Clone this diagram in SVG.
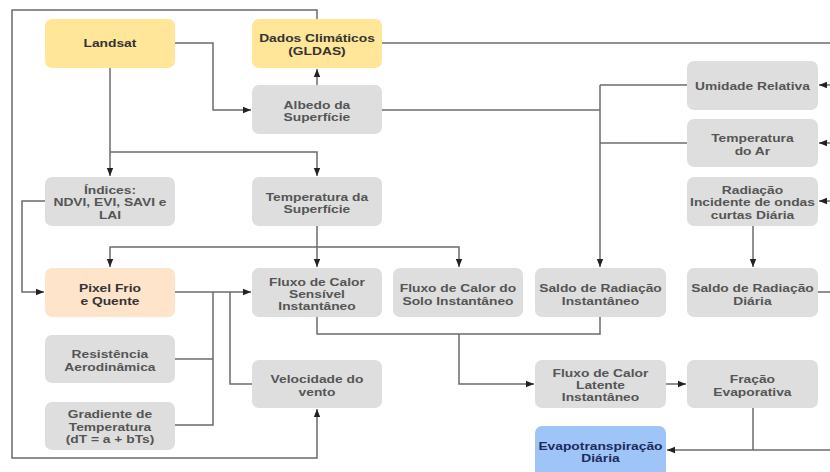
<svg xmlns="http://www.w3.org/2000/svg" width="830" height="472" viewBox="0 0 830 472">
<style>
  .box { stroke: none; }
  .gray { fill: #dedede; }
  .yellow { fill: #ffe699; }
  .peach { fill: #fde4cb; }
  .blue { fill: #9fc5f8; }
  text { font-family: "Liberation Sans", Arial, sans-serif; font-weight: bold; font-size: 11.5px; fill: #555555; text-anchor: middle; transform-box: fill-box; transform-origin: center; transform: scaleX(1.2); }
  .dark { fill: #333333; }
  .navy { fill: #1c2a5c; }
  .conn path { fill: none; stroke: #6b6b6b; stroke-width: 1.5; }
</style>
<defs>
  <marker id="arr" viewBox="0 0 10 10" refX="10" refY="5" markerWidth="8" markerHeight="8" markerUnits="userSpaceOnUse" orient="auto">
    <path d="M0,1 L10,5 L0,9 Z" fill="#222222"/>
  </marker>
</defs>
<rect width="830" height="472" fill="#ffffff"/>

<g class="conn">
  <path d="M317,19 V10 H12 V458 H317 V409" marker-end="url(#arr)"/>
  <path d="M175,43 H213 V110 H251" marker-end="url(#arr)"/>
  <path d="M317,85 V69" marker-end="url(#arr)"/>
  <path d="M382,43 H830"/>
  <path d="M382,110 H600"/>
  <path d="M687,85 H600"/>
  <path d="M687,143 H600"/>
  <path d="M600,85 V267" marker-end="url(#arr)"/>
  <path d="M830,85 H819" marker-end="url(#arr)"/>
  <path d="M830,143 H819" marker-end="url(#arr)"/>
  <path d="M830,201 H819" marker-end="url(#arr)"/>
  <path d="M753,226 V267" marker-end="url(#arr)"/>
  <path d="M818,292 H830"/>
  <path d="M110,68 V176" marker-end="url(#arr)"/>
  <path d="M110,152 H317 V176" marker-end="url(#arr)"/>
  <path d="M45,201 H22 V292 H44" marker-end="url(#arr)"/>
  <path d="M317,226 V267" marker-end="url(#arr)"/>
  <path d="M317,247 H459 V267" marker-end="url(#arr)"/>
  <path d="M317,247 H110 V267" marker-end="url(#arr)"/>
  <path d="M175,292 H251" marker-end="url(#arr)"/>
  <path d="M213,292 V425 H175"/>
  <path d="M175,359 H213"/>
  <path d="M230,292 V384 H252"/>
  <path d="M317,317 V334 H600 V317"/>
  <path d="M459,334 V384 H534" marker-end="url(#arr)"/>
  <path d="M666,384 H686" marker-end="url(#arr)"/>
  <path d="M753,408 V450"/>
  <path d="M830,450 H667" marker-end="url(#arr)"/>
</g>

<g id="landsat"><rect class="box yellow" x="45" y="19" width="130" height="49" rx="7"/><text class="dark" x="110" y="47.5">Landsat</text></g>
<g id="dados"><rect class="box yellow" x="252" y="19" width="130" height="49" rx="7"/><text class="dark" x="317" y="42.5">Dados Climáticos<tspan x="317" dy="12.5">(GLDAS)</tspan></text></g>
<g id="albedo"><rect class="box gray" x="252" y="85" width="130" height="49" rx="7"/><text x="317" y="109">Albedo da<tspan x="317" dy="12.4">Superfície</tspan></text></g>
<g id="umidade"><rect class="box gray" x="687" y="61" width="131" height="49" rx="7"/><text x="752.5" y="90">Umidade Relativa</text></g>
<g id="tempar"><rect class="box gray" x="687" y="119" width="131" height="48" rx="7"/><text x="752.5" y="142.3">Temperatura<tspan x="752.5" dy="12.4">do Ar</tspan></text></g>
<g id="radiacao"><rect class="box gray" x="687" y="177" width="131" height="49" rx="7"/><text x="752.5" y="194">Radiação<tspan x="752.5" dy="12.4">Incidente de ondas</tspan><tspan x="752.5" dy="12.4">curtas Diária</tspan></text></g>
<g id="indices"><rect class="box gray" x="45" y="177" width="130" height="49" rx="7"/><text x="110" y="194">Índices:<tspan x="110" dy="12.4">NDVI, EVI, SAVI e</tspan><tspan x="110" dy="12.4">LAI</tspan></text></g>
<g id="tempsup"><rect class="box gray" x="252" y="177" width="130" height="49" rx="7"/><text x="317" y="200.7">Temperatura da<tspan x="317" dy="12.4">Superfície</tspan></text></g>
<g id="pixel"><rect class="box peach" x="45" y="268" width="130" height="49" rx="7"/><text class="dark" x="110" y="292.3">Pixel Frio<tspan x="110" dy="12.4">e Quente</tspan></text></g>
<g id="sensivel"><rect class="box gray" x="252" y="268" width="130" height="49" rx="7"/><text x="317" y="285.7">Fluxo de Calor<tspan x="317" dy="12.4">Sensível</tspan><tspan x="317" dy="12.4">Instantâneo</tspan></text></g>
<g id="solo"><rect class="box gray" x="393" y="268" width="130" height="49" rx="7"/><text x="458" y="292.3">Fluxo de Calor do<tspan x="458" dy="12.6">Solo Instantâneo</tspan></text></g>
<g id="saldoinst"><rect class="box gray" x="535" y="268" width="131" height="49" rx="7"/><text x="600.5" y="292.3">Saldo de Radiação<tspan x="600.5" dy="12.4">Instantâneo</tspan></text></g>
<g id="saldodiaria"><rect class="box gray" x="687" y="268" width="131" height="49" rx="7"/><text x="752.5" y="292.3">Saldo de Radiação<tspan x="752.5" dy="12.4">Diária</tspan></text></g>
<g id="resistencia"><rect class="box gray" x="45" y="335" width="130" height="48" rx="7"/><text x="110" y="358">Resistência<tspan x="110" dy="12.6">Aerodinâmica</tspan></text></g>
<g id="gradiente"><rect class="box gray" x="45" y="402" width="130" height="48" rx="7"/><text x="110" y="418">Gradiente de<tspan x="110" dy="12.6">Temperatura</tspan><tspan x="110" dy="12.8">(dT = a + bTs)</tspan></text></g>
<g id="velocidade"><rect class="box gray" x="252" y="360" width="130" height="48" rx="7"/><text x="317" y="383.3">Velocidade do<tspan x="317" dy="12.8">vento</tspan></text></g>
<g id="latente"><rect class="box gray" x="535" y="360" width="131" height="48" rx="7"/><text x="600.5" y="377.3">Fluxo de Calor<tspan x="600.5" dy="12">Latente</tspan><tspan x="600.5" dy="12">Instantâneo</tspan></text></g>
<g id="fracao"><rect class="box gray" x="687" y="360" width="131" height="48" rx="7"/><text x="752.5" y="383.3">Fração<tspan x="752.5" dy="12.8">Evaporativa</tspan></text></g>
<g id="evapo"><rect class="box blue" x="535" y="426" width="131" height="52" rx="7"/><text class="navy" x="600.5" y="450">Evapotranspiração<tspan x="600.5" dy="12.4">Diária</tspan></text></g>
</svg>
